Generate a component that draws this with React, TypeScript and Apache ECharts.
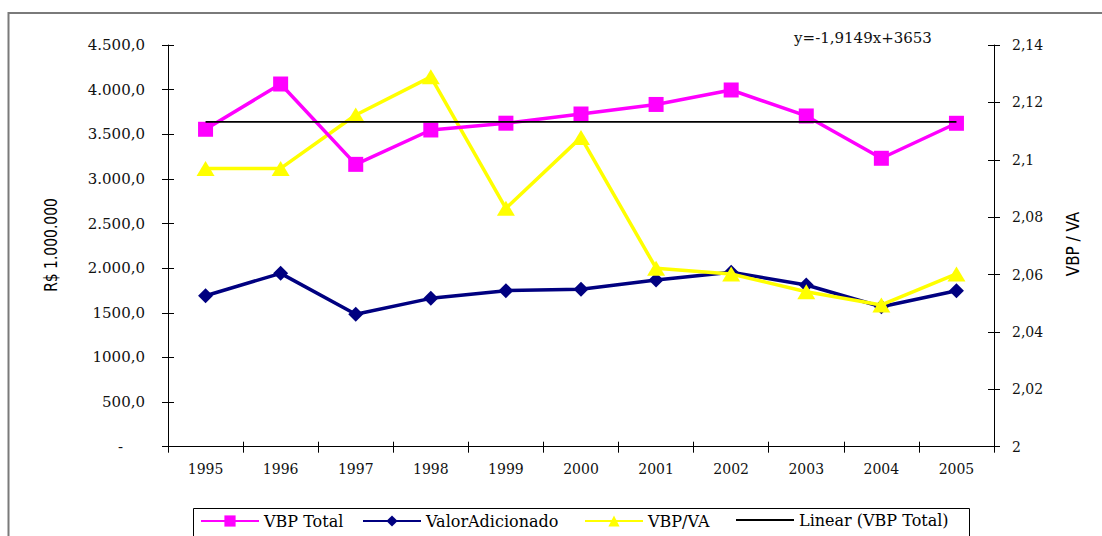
import React, { useEffect, useRef } from "react";
import * as echarts from "echarts";

const years = ["1995", "1996", "1997", "1998", "1999", "2000", "2001", "2002", "2003", "2004", "2005"];
const vbpTotal = [3556, 4063, 3163, 3548, 3624, 3727, 3834, 3996, 3705, 3231, 3623];
const valorAdicionado = [1691, 1942, 1483, 1662, 1748, 1763, 1867, 1955, 1811, 1568, 1747];
const vbpVa = [2.097, 2.097, 2.1156, 2.1289, 2.0831, 2.1078, 2.0622, 2.0602, 2.054, 2.0494, 2.0602];
const linearVbp = [3638, 3638, 3638, 3638, 3638, 3638, 3638, 3638, 3638, 3638, 3638];
const leftTickLabels = ["-", "500,0", "1000,0", "1500,0", "2.000,0", "2.500,0", "3.000,0", "3.500,0", "4.000,0", "4.500,0"];
const rightTickLabels = ["2", "2,02", "2,04", "2,06", "2,08", "2,1", "2,12", "2,14"];
const seriesNames = ["VBP Total", "ValorAdicionado", "VBP/VA", "Linear (VBP Total)"];
const equationText = "y=-1,9149x+3653";
const leftAxisTitle = "R$ 1.000.000";
const rightAxisTitle = "VBP / VA";

const SERIF = "'DejaVu Serif', 'Liberation Serif', serif";
const NARROW = "'Liberation Sans Narrow', 'DejaVu Sans Condensed', 'Liberation Sans', sans-serif";

export default function App() {
  const ref = useRef<HTMLDivElement>(null);
  useEffect(() => {
    if (!ref.current) return;
    const chart = echarts.init(ref.current, undefined, { renderer: "svg" });
    const axisLabelBase = { fontFamily: SERIF, fontSize: 14, color: "#111" };
    const legendBase = (name: string, left: number, extra: any = {}) => ({
      data: [name],
      left,
      top: 513,
      padding: 0,
      itemWidth: 58,
      itemHeight: 14,
      itemGap: 0,
      textStyle: { fontFamily: SERIF, fontSize: 16, color: "#000" },
      ...extra,
    });
    chart.setOption({
      animation: false,
      backgroundColor: "#fff",
      grid: { left: 168, right: 108, top: 45, bottom: 89.3 },
      legend: [
        legendBase(seriesNames[0], 200),
        legendBase(seriesNames[1], 362),
        legendBase(seriesNames[2], 584),
        legendBase(seriesNames[3], 736, { data: [{ name: seriesNames[3], icon: "rect" }], itemHeight: 2, top: 512 }),
      ],
      xAxis: [
        {
          type: "category",
          data: years,
          position: "bottom",
          boundaryGap: true,
          axisLine: { lineStyle: { color: "#000", width: 1 } },
          axisTick: { show: true, length: 6, lineStyle: { color: "#000" } },
          axisLabel: { ...axisLabelBase, margin: 15 },
          splitLine: { show: false },
        },
        {
          type: "category",
          data: years,
          position: "bottom",
          boundaryGap: true,
          axisLine: { show: false },
          axisTick: { show: true, inside: true, length: 5, lineStyle: { color: "#000" } },
          axisLabel: { show: false },
          splitLine: { show: false },
        },
      ],
      yAxis: [
        {
          type: "value",
          position: "left",
          min: 0,
          max: 4500,
          interval: 500,
          axisLine: { show: true, lineStyle: { color: "#000", width: 1 } },
          axisTick: { show: true, length: 6, lineStyle: { color: "#000" } },
          splitLine: { show: false },
          axisLabel: {
            ...axisLabelBase,
            fontSize: 15,
            margin: 23,
            formatter: (v: number) => {
              const i = Math.round(v / 500);
              if (i === 0) return "{dash|" + leftTickLabels[0] + "}";
              return leftTickLabels[i] ?? "";
            },
            rich: { dash: { fontFamily: SERIF, fontSize: 15, color: "#111", padding: [0, 22, 0, 0] } },
          },
        },
        {
          type: "value",
          position: "right",
          min: 2,
          max: 2.14,
          interval: 0.02,
          axisLine: { show: true, lineStyle: { color: "#000", width: 1 } },
          axisTick: { show: true, length: 6, lineStyle: { color: "#000" } },
          splitLine: { show: false },
          axisLabel: {
            ...axisLabelBase,
            margin: 18,
            formatter: (v: number) => rightTickLabels[Math.round((v - 2) / 0.02)] ?? "",
          },
        },
        {
          type: "value",
          position: "left",
          min: 0,
          max: 4500,
          interval: 500,
          axisLine: { show: false },
          axisTick: { show: true, inside: true, length: 6, lineStyle: { color: "#000" } },
          axisLabel: { show: false },
          splitLine: { show: false },
        },
        {
          type: "value",
          position: "right",
          min: 2,
          max: 2.14,
          interval: 0.02,
          axisLine: { show: false },
          axisTick: { show: true, inside: true, length: 6, lineStyle: { color: "#000" } },
          axisLabel: { show: false },
          splitLine: { show: false },
        },
      ],
      series: [
        {
          name: seriesNames[1],
          type: "line",
          data: valorAdicionado,
          yAxisIndex: 0,
          symbol: "diamond",
          symbolSize: 15,
          color: "#000080",
          lineStyle: { color: "#000080", width: 3.5 },
          itemStyle: { color: "#000080" },
          z: 3,
        },
        {
          name: seriesNames[2],
          type: "line",
          data: vbpVa,
          yAxisIndex: 1,
          symbol: "triangle",
          symbolSize: [18, 15],
          color: "#FFFF00",
          lineStyle: { color: "#FFFF00", width: 3.5 },
          itemStyle: { color: "#FFFF00" },
          z: 4,
        },
        {
          name: seriesNames[0],
          type: "line",
          data: vbpTotal,
          yAxisIndex: 0,
          symbol: "rect",
          symbolSize: 15,
          color: "#FF00FF",
          lineStyle: { color: "#FF00FF", width: 3.5 },
          itemStyle: { color: "#FF00FF" },
          z: 5,
        },
        {
          name: seriesNames[3],
          type: "line",
          data: linearVbp,
          yAxisIndex: 0,
          symbol: "none",
          color: "#000",
          lineStyle: { color: "#000", width: 1.8 },
          itemStyle: { color: "#000" },
          z: 6,
        },
      ],
      graphic: [
        {
          type: "rect",
          shape: { x: 8.5, y: 13, width: 1200, height: 700 },
          style: { fill: "none", stroke: "#7a7a7a", lineWidth: 2 },
          silent: true,
          z: -10,
        },
        {
          type: "rect",
          shape: { x: 193.5, y: 508.5, width: 776, height: 60 },
          style: { fill: "none", stroke: "#000", lineWidth: 1 },
          silent: true,
        },
        {
          type: "text",
          x: 863,
          y: 38,
          style: {
            text: equationText,
            fontFamily: SERIF,
            fontSize: 15,
            fill: "#111",
            align: "center",
            verticalAlign: "middle",
          },
        },
        {
          type: "text",
          x: 51,
          y: 245,
          rotation: Math.PI / 2,
          scaleX: 0.86,
          style: {
            text: leftAxisTitle,
            fontFamily: NARROW,
            fontSize: 18,
            fill: "#000",
            align: "center",
            verticalAlign: "middle",
          },
        },
        {
          type: "text",
          x: 1073,
          y: 244,
          rotation: Math.PI / 2,
          scaleX: 0.94,
          style: {
            text: rightAxisTitle,
            fontFamily: NARROW,
            fontSize: 18,
            fill: "#000",
            align: "center",
            verticalAlign: "middle",
          },
        },
      ],
    });
    return () => chart.dispose();
  }, []);
  return (
    <div
      ref={ref}
      style={{ position: "fixed", left: 0, top: 0, width: 1102, height: 536, background: "#fff" }}
    />
  );
}
